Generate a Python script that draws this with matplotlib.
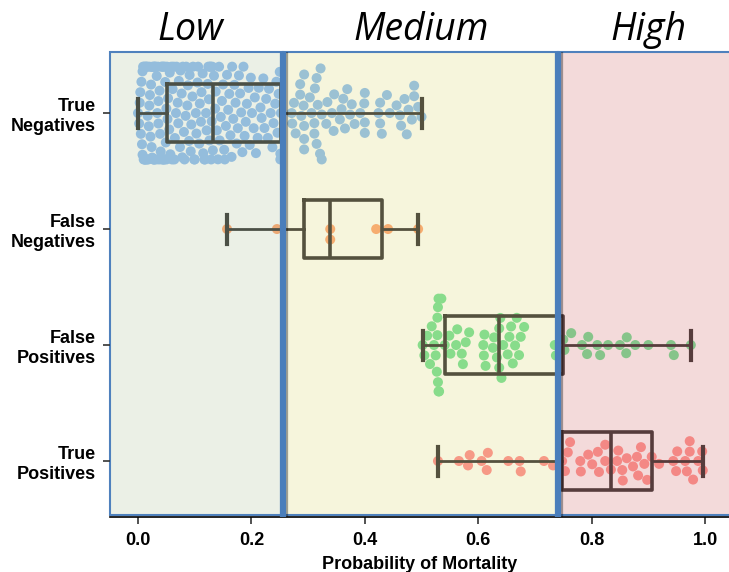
import numpy as np
import pandas as pd
import matplotlib
matplotlib.use("Agg")
import matplotlib.pyplot as plt
import matplotlib.patheffects as pe
import matplotlib.transforms as mtransforms
from matplotlib.patches import Rectangle
from matplotlib.colors import to_rgb
import seaborn as sns

groups = ["True\nNegatives", "False\nNegatives", "False\nPositives", "True\nPositives"]
group_colors = ["#a1c9f4", "#ffb482", "#8de5a1", "#ff9f9b"]

true_neg = [
    0.000, 0.002, 0.003, 0.004, 0.005, 0.006, 0.007, 0.008, 0.008, 0.009,
    0.010, 0.011, 0.012, 0.012, 0.013, 0.014, 0.015, 0.016, 0.016, 0.017,
    0.018, 0.019, 0.020, 0.020, 0.021, 0.022, 0.023, 0.024, 0.024, 0.025,
    0.026, 0.027, 0.028, 0.028, 0.029, 0.030, 0.031, 0.032, 0.033, 0.034,
    0.035, 0.036, 0.036, 0.037, 0.038, 0.039, 0.040, 0.041, 0.042, 0.043,
    0.044, 0.045, 0.046, 0.046, 0.047, 0.048, 0.049, 0.050, 0.050, 0.051,
    0.052, 0.053, 0.055, 0.056, 0.057, 0.059, 0.060, 0.061, 0.063, 0.064,
    0.065, 0.067, 0.068, 0.070, 0.071, 0.072, 0.074, 0.075, 0.077, 0.078,
    0.079, 0.081, 0.082, 0.084, 0.085, 0.087, 0.088, 0.090, 0.091, 0.093,
    0.094, 0.096, 0.097, 0.099, 0.100, 0.102, 0.103, 0.105, 0.106, 0.108,
    0.109, 0.111, 0.112, 0.114, 0.115, 0.117, 0.118, 0.120, 0.121, 0.123,
    0.124, 0.125, 0.126, 0.127, 0.128, 0.129, 0.130, 0.131, 0.132,
    0.134, 0.136, 0.137, 0.139, 0.141, 0.143, 0.144, 0.146, 0.148, 0.150,
    0.152, 0.153, 0.155, 0.157, 0.159, 0.161, 0.163, 0.165, 0.166, 0.168,
    0.170, 0.172, 0.174, 0.176, 0.178, 0.180, 0.182, 0.184, 0.186, 0.188,
    0.190, 0.192, 0.195, 0.197, 0.199, 0.201, 0.204, 0.206, 0.208, 0.211,
    0.213, 0.216, 0.218, 0.221, 0.223, 0.226, 0.229, 0.231, 0.234, 0.237,
    0.239, 0.242, 0.244, 0.246, 0.248, 0.250, 0.251, 0.251, 0.252,
    0.271, 0.272, 0.275, 0.278, 0.286, 0.286, 0.288, 0.292, 0.293, 0.293,
    0.293, 0.293, 0.303, 0.306, 0.311, 0.311, 0.312, 0.315, 0.315, 0.317,
    0.321, 0.322, 0.324, 0.324, 0.332, 0.334, 0.342, 0.345, 0.346, 0.356,
    0.359, 0.362, 0.365, 0.369, 0.374, 0.377, 0.382, 0.392, 0.399, 0.400,
    0.400, 0.400, 0.424, 0.427, 0.427, 0.430, 0.439, 0.444, 0.456, 0.462,
    0.464, 0.470, 0.474, 0.477, 0.483, 0.487, 0.487, 0.494, 0.500,
]
false_neg = [0.157, 0.245, 0.339, 0.339, 0.420, 0.441, 0.494]
false_pos = [
    0.502, 0.505, 0.510, 0.515, 0.518, 0.522, 0.525, 0.527, 0.528, 0.528,
    0.529, 0.529, 0.530, 0.530, 0.531, 0.535, 0.541,
    0.549, 0.551, 0.561, 0.563, 0.571, 0.573, 0.578, 0.584, 0.609, 0.610,
    0.611, 0.613, 0.626, 0.628, 0.633, 0.637,
    0.637, 0.639, 0.641, 0.644, 0.652, 0.655, 0.658, 0.661, 0.665, 0.668,
    0.672, 0.675, 0.681, 0.735, 0.737, 0.750,
    0.752, 0.764, 0.783, 0.792, 0.794, 0.810, 0.815, 0.829, 0.850, 0.861,
    0.862, 0.877, 0.900, 0.940, 0.945, 0.975,
]
true_pos = [
    0.529, 0.566, 0.582, 0.585, 0.606, 0.615, 0.617, 0.653, 0.673, 0.675,
    0.716, 0.732, 0.748,
    0.753, 0.758, 0.762, 0.780, 0.781, 0.794, 0.801, 0.811, 0.813, 0.824,
    0.824, 0.834,
    0.845, 0.847, 0.854, 0.855, 0.862, 0.873, 0.880, 0.882, 0.887, 0.893,
    0.898, 0.906,
    0.919, 0.944, 0.949, 0.951, 0.965, 0.968, 0.973, 0.973, 0.979, 0.988,
    0.995, 0.996,
]
values = [true_neg, false_neg, false_pos, true_pos]

band_names = ["Low", "Medium", "High"]
band_edges = [-0.0494, 0.256, 0.741, 1.10]
band_colors = ["#ebf0e6", "#f6f5dc", "#f3dada"]
band_line_colors = ["#4b5046", "#54513e", "#563c3c"]
band_title_x = [0.093, 0.499, 0.901]
xticks = [0.0, 0.2, 0.4, 0.6, 0.8, 1.0]

plt.rcParams["font.family"] = ["Liberation Sans", "DejaVu Sans"]

df = pd.DataFrame({
    "group": np.repeat(groups, [len(v) for v in values]),
    "prob": np.concatenate(values),
})

fig = plt.figure(figsize=(7.29, 5.72), dpi=100)
ax = fig.add_axes([0.1509, 0.0961, 0.8491, 0.8129])

# shaded risk bands with blue outlines
for x0, x1, col in zip(band_edges[:-1], band_edges[1:], band_colors):
    ax.add_patch(Rectangle((x0, 0.004), x1 - x0, 0.996,
                           transform=ax.get_xaxis_transform(),
                           facecolor=col, edgecolor="#4f81bd", lw=1.5,
                           zorder=0, clip_on=False))

sns.swarmplot(data=df, x="prob", y="group", hue="group", order=groups,
              hue_order=groups, palette=group_colors, size=7.2, linewidth=0,
              legend=False, orient="h", ax=ax)

# tint every dot by the band it sits in
tints = np.array([to_rgb(c) for c in band_colors])
for coll in ax.collections:
    offs = coll.get_offsets()
    if len(offs) == 0:
        continue
    gi = int(round(float(np.mean(offs[:, 1]))))
    idx = np.clip(np.searchsorted(band_edges, offs[:, 0], side="right") - 1, 0, 2)
    coll.set_facecolor(np.array(to_rgb(group_colors[gi])) * tints[idx])
    coll.set_edgecolor("none")

# box plots, drawn once per band so the lines pick up that band's tint
for x0, x1, col in zip(band_edges[:-1], band_edges[1:], band_line_colors):
    parts = ax.boxplot(values, positions=range(len(values)),
                       orientation="horizontal", widths=0.5,
                       showfliers=False, manage_ticks=False,
                       boxprops=dict(color=col, lw=2.6),
                       whiskerprops=dict(color=col, lw=2.0),
                       capprops=dict(color=col, lw=3.0),
                       medianprops=dict(color=col, lw=2.6))
    clip = Rectangle((x0, 0), x1 - x0, 1, transform=ax.get_xaxis_transform())
    for arts in parts.values():
        for a in arts:
            a.set_clip_path(clip)
            a.set_zorder(3)

for xb in band_edges[1:-1]:
    ax.axvline(xb, color="#4a7ebb", lw=4.5, zorder=5,
               path_effects=[pe.SimpleLineShadow(offset=(1.5, -1), alpha=0.35),
                             pe.Normal()])

ax.set_xlim(-0.0494, 1.0423)
ax.set_ylim(3.483, -0.526)
ax.set_xticks(xticks)
ax.set_xticklabels([f"{t:.1f}" for t in xticks], fontsize=13, fontweight="bold")
ax.set_yticks(range(len(groups)))
ax.set_yticklabels(groups, fontsize=13, fontweight="bold")
ax.tick_params(axis="x", length=5, width=1.2, pad=6, color="#333333")
ax.tick_params(axis="y", length=5, width=1.2, pad=5, color="#333333")
ax.set_xlabel("Probability of Mortality", fontsize=13, fontweight="bold",
              labelpad=5)
ax.set_ylabel("")
for side in ["left", "top", "right"]:
    ax.spines[side].set_visible(False)
ax.spines["bottom"].set_linewidth(1.2)

title_tr = mtransforms.blended_transform_factory(ax.transData, fig.transFigure)
for name, tx in zip(band_names, band_title_x):
    fig.text(tx, 0.930, name, transform=title_tr, ha="center", va="baseline",
             fontsize=27, style="italic", family="Open Sans")

fig.savefig("out.png", dpi=100)
